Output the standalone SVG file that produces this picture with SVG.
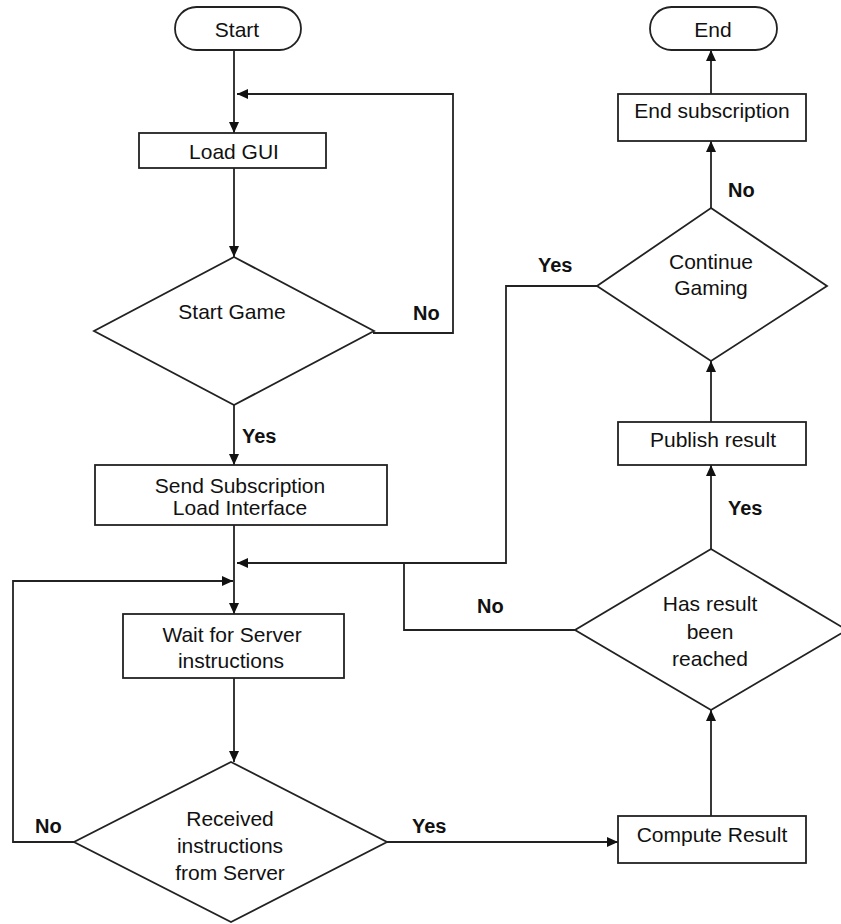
<svg xmlns="http://www.w3.org/2000/svg" width="841" height="924" viewBox="0 0 841 924">
  <defs>
    <marker id="arrow" markerUnits="userSpaceOnUse" markerWidth="12" markerHeight="10" refX="11" refY="5" orient="auto">
      <path d="M0,0 L11,5 L0,10 Z" fill="#111"/>
    </marker>
  </defs>
  <style>
    .shape { fill: #fff; stroke: #222; stroke-width: 1.8; }
    .conn { fill: none; stroke: #222; stroke-width: 1.8; }
    .t { font-family: "Liberation Sans", Arial, sans-serif; font-size: 21px; fill: #111; text-anchor: middle; }
    .lbl { font-family: "Liberation Sans", Arial, sans-serif; font-size: 20px; font-weight: bold; fill: #111; }
  </style>
  <rect width="841" height="924" fill="#fff"/>

  <!-- connectors -->
  <g id="connectors">
    <path class="conn" d="M234,50 V133" marker-end="url(#arrow)"/>
    <path class="conn" d="M234,168 V257" marker-end="url(#arrow)"/>
    <path class="conn" d="M373,333 H453 V94 H237" marker-end="url(#arrow)"/>
    <path class="conn" d="M234,405 V465" marker-end="url(#arrow)"/>
    <path class="conn" d="M234,525 V614" marker-end="url(#arrow)"/>
    <path class="conn" d="M597,286 H506 V563 H237" marker-end="url(#arrow)"/>
    <path class="conn" d="M575,630 H404 V563"/>
    <path class="conn" d="M74,842 H13 V581 H233" marker-end="url(#arrow)"/>
    <path class="conn" d="M234,678 V762" marker-end="url(#arrow)"/>
    <path class="conn" d="M387,842 H618" marker-end="url(#arrow)"/>
    <path class="conn" d="M711,816 V710" marker-end="url(#arrow)"/>
    <path class="conn" d="M711,549 V465" marker-end="url(#arrow)"/>
    <path class="conn" d="M711,422 V361" marker-end="url(#arrow)"/>
    <path class="conn" d="M711,208 V141" marker-end="url(#arrow)"/>
    <path class="conn" d="M711,94 V50" marker-end="url(#arrow)"/>
  </g>

  <!-- connector labels -->
  <g id="labels">
    <text class="lbl" x="413" y="320">No</text>
    <text class="lbl" x="242" y="443">Yes</text>
    <text class="lbl" x="35" y="833">No</text>
    <text class="lbl" x="412" y="833">Yes</text>
    <text class="lbl" x="477" y="613">No</text>
    <text class="lbl" x="728" y="515">Yes</text>
    <text class="lbl" x="538" y="272">Yes</text>
    <text class="lbl" x="728" y="197">No</text>
  </g>

  <g id="start">
    <rect class="shape" x="175" y="7" width="126" height="43" rx="21.5"/>
    <text class="t" x="237" y="37">Start</text>
  </g>

  <g id="load-gui">
    <rect class="shape" x="139" y="133" width="187" height="35"/>
    <text class="t" x="234" y="159">Load GUI</text>
  </g>

  <g id="start-game">
    <polygon class="shape" points="234,257 374,331 234,405 94,331"/>
    <text class="t" x="232" y="319">Start Game</text>
  </g>

  <g id="send-subscription">
    <rect class="shape" x="95" y="465" width="292" height="60"/>
    <text class="t" x="240" y="493">Send Subscription</text>
    <text class="t" x="240" y="515">Load Interface</text>
  </g>

  <g id="wait-server">
    <rect class="shape" x="123" y="614" width="221" height="64"/>
    <text class="t" x="232" y="642">Wait for Server</text>
    <text class="t" x="231" y="668">instructions</text>
  </g>

  <g id="received">
    <polygon class="shape" points="231,762 387,842 231,922 74,842"/>
    <text class="t" x="230" y="826">Received</text>
    <text class="t" x="230" y="853">instructions</text>
    <text class="t" x="230" y="880">from Server</text>
  </g>

  <g id="compute-result">
    <rect class="shape" x="618" y="816" width="188" height="47"/>
    <text class="t" x="712" y="842">Compute Result</text>
  </g>

  <g id="has-result">
    <polygon class="shape" points="711,549 847,630 711,710 575,630"/>
    <text class="t" x="710" y="611">Has result</text>
    <text class="t" x="710" y="639">been</text>
    <text class="t" x="710" y="666">reached</text>
  </g>

  <g id="publish-result">
    <rect class="shape" x="618" y="422" width="188" height="43"/>
    <text class="t" x="713" y="447">Publish result</text>
  </g>

  <g id="continue-gaming">
    <polygon class="shape" points="711,208 827,286 711,361 597,286"/>
    <text class="t" x="711" y="269">Continue</text>
    <text class="t" x="711" y="295">Gaming</text>
  </g>

  <g id="end-subscription">
    <rect class="shape" x="618" y="94" width="188" height="47"/>
    <text class="t" x="712" y="118">End subscription</text>
  </g>

  <g id="end">
    <rect class="shape" x="650" y="7" width="127" height="43" rx="21.5"/>
    <text class="t" x="713" y="37">End</text>
  </g>
</svg>
